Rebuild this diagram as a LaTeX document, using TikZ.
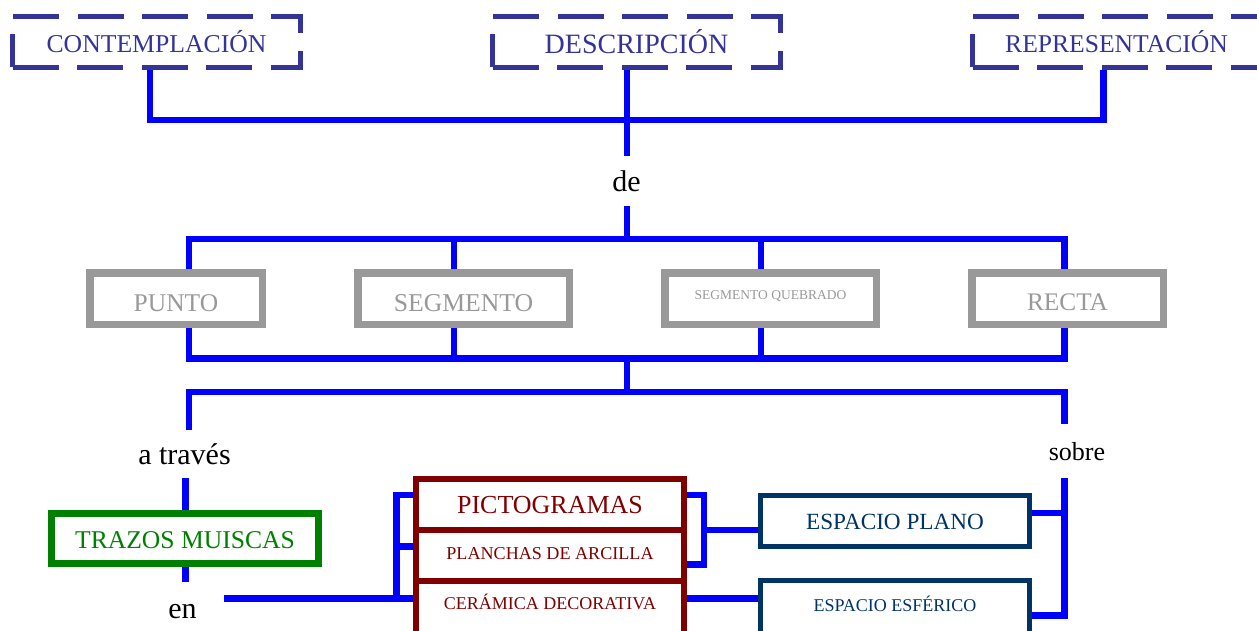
\documentclass[tikz,border=0pt]{standalone}
\usepackage{fontspec}
\setmainfont{Liberation Serif}
\newcommand\setfs[1]{\fontsize{#1}{#1}\selectfont}
\newcommand\dashframe[1]{\draw[dframe] ([shift={(2.5pt,2.5pt)}]#1.south west) -- ([shift={(-2.5pt,2.5pt)}]#1.south east) -- ([shift={(-2.5pt,-2.5pt)}]#1.north east) -- ([shift={(2.5pt,-2.5pt)}]#1.north west) -- cycle;}
\definecolor{blueA}{HTML}{0000FF}
\definecolor{dashblue}{HTML}{333399}
\definecolor{grayA}{HTML}{999999}
\definecolor{greenA}{HTML}{008000}
\definecolor{redA}{HTML}{800000}
\definecolor{navyA}{HTML}{003366}
\begin{document}
\begin{tikzpicture}[x=1pt,y=-1pt,
  conn/.style={draw=blueA, line width=6.5pt},
  dframe/.style={draw=dashblue, line width=5pt, dash pattern=on 46pt off 18.5pt},
  dbox/.style={line width=5pt, text=dashblue,
    inner sep=0pt, minimum width=288pt, minimum height=51pt, text depth=0pt},
  gbox/.style={draw=grayA, line width=7.5pt, text=grayA, inner sep=0pt, minimum height=51.5pt, text depth=0pt},
  grbox/.style={draw=greenA, line width=6.7pt, text=greenA, inner sep=0pt, minimum width=267.4pt, minimum height=50.4pt, text depth=0pt},
  rbox/.style={draw=redA, line width=5.7pt, text=redA, inner sep=0pt, minimum width=268pt, minimum height=51pt, text depth=0pt},
  nbox/.style={draw=navyA, line width=5pt, text=navyA, inner sep=0pt, minimum width=269pt, minimum height=51pt, text depth=0pt},
  lbl/.style={text=black, inner xsep=0pt, outer sep=0pt, anchor=base}]
\useasboundingbox (0,0) rectangle (1257,630);
\clip (0,0) rectangle (1257,630);
% top dashed boxes
\node[dbox, text height=21pt, font=\setfs{25.7}] (C) at (156.5,41.5) {CONTEMPLACIÓN};
\node[dbox, text height=23pt, font=\setfs{28}] (D) at (636.5,41.5) {DESCRIPCIÓN};
\node[dbox, text height=21pt, font=\setfs{25.6}] (R) at (1116.5,41.5) {REPRESENTACIÓN};
\dashframe{C}
\dashframe{D}
\dashframe{R}
% gray boxes
\node[gbox, minimum width=172.5pt, text height=25pt, font=\setfs{25.5}] (P) at (176,298.5) {PUNTO};
\node[gbox, minimum width=211.5pt, text height=25pt, font=\setfs{25.7}] (S) at (463.5,298.5) {SEGMENTO};
\node[gbox, minimum width=211.5pt, text height=1pt, font=\setfs{13.5}] (Q) at (770.5,298.5) {SEGMENTO QUEBRADO};
\node[gbox, minimum width=191.5pt, text height=23pt, font=\setfs{25.3}] (Re) at (1067.5,298.5) {RECTA};
% green
\node[grbox, text height=19pt, font=\setfs{25.6}] (T) at (185,538.5) {TRAZOS MUISCAS};
% red stack
\node[rbox, text height=17pt, font=\setfs{26}] (PI) at (550,504.5) {PICTOGRAMAS};
\node[rbox, text height=7pt, font=\setfs{18.1}] (PL) at (550,555.5) {PLANCHAS DE ARCILLA};
\node[rbox, minimum height=60pt, text height=0pt, text depth=4pt, font=\setfs{18}] (CE) at (550,611) {CERÁMICA DECORATIVA};
% navy
\node[nbox, text height=16pt, font=\setfs{23.2}] (EP) at (895,521) {ESPACIO PLANO};
\node[nbox, minimum height=60pt, text height=1pt, font=\setfs{18}] (EE) at (895,610.5) {ESPACIO ESFÉRICO};
% plain labels
\node[lbl, font=\setfs{30}, inner ysep=14.5pt] (de) at (626.5,191) {de};
\node[lbl, font=\setfs{30}, inner ysep=13.5pt] (at) at (184.5,464) {a través};
\node[lbl, font=\setfs{30}, inner xsep=27pt, inner ysep=22pt] (en) at (182.5,618) {en};
\node[lbl, font=\setfs{26}, inner ysep=18pt] (sobre) at (1077,460) {sobre};
% connectors
\draw[conn] (C.south -| 150,0) |- (1103.5,120) -- (R.south -| 1103.5,0);
\draw[conn] (D.south -| 627,0) -- (de.north -| 627,0);
\draw[conn] (de.south -| 627,0) -- (627,239);
\draw[conn] (P.north -| 189,0) |- (1064.5,239) -- (Re.north -| 1064.5,0);
\draw[conn] (S.north -| 454,0) -- (454,239);
\draw[conn] (Q.north -| 761,0) -- (761,239);
\draw[conn] (P.south -| 189,0) |- (1064.5,358.5) -- (Re.south -| 1064.5,0);
\draw[conn] (S.south -| 454,0) -- (454,358.5);
\draw[conn] (Q.south -| 761,0) -- (761,358.5);
\draw[conn] (627,358.5) -- (627,392);
\draw[conn] (at.north -| 189,0) |- (1064.5,392) -- (sobre.north -| 1064.5,0);
\draw[conn] (at.south -| 185.5,0) -- (T.north -| 185.5,0);
\draw[conn] (T.south -| 185.5,0) -- (en.north -| 185.5,0);
\draw[conn] (en.east |- 0,598.5) -- (CE.west |- 0,598.5);
\draw[conn] (PI.west |- 0,495) -| (396.5,598.5);
\draw[conn] (PL.west |- 0,546.5) -- (396.5,546.5);
\draw[conn] (PI.east |- 0,495) -| (704,564.5) -- (PL.east |- 0,564.5);
\draw[conn] (704,530) -- (EP.west |- 0,530);
\draw[conn] (CE.east |- 0,598.5) -- (EE.west |- 0,598.5);
\draw[conn] (sobre.south -| 1064.5,0) |- (EE.east |- 0,615.5);
\draw[conn] (EP.east |- 0,513) -- (1064.5,513);
\end{tikzpicture}
\end{document}
